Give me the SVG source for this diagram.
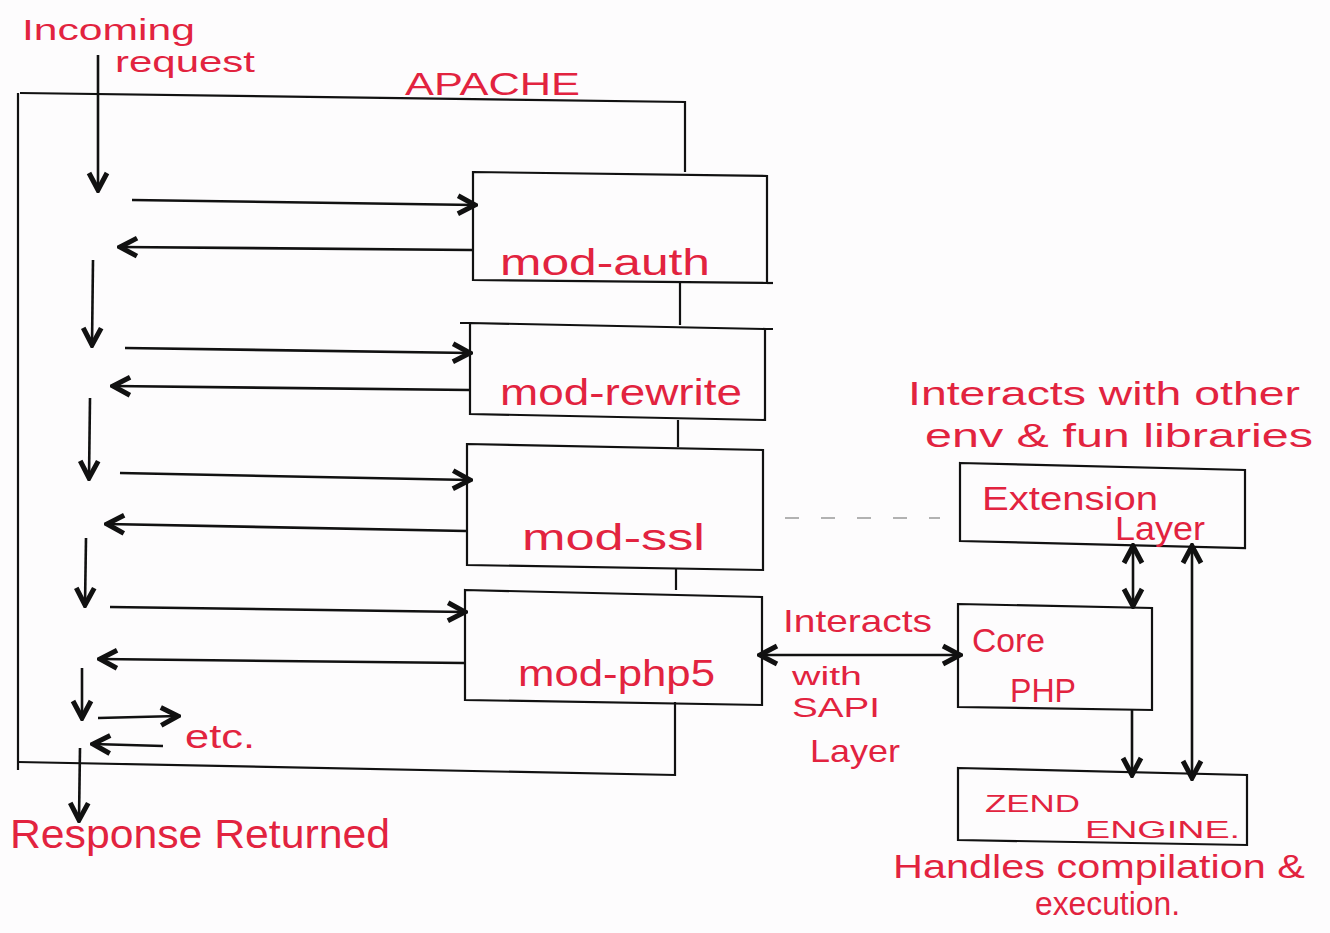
<svg xmlns="http://www.w3.org/2000/svg" width="1330" height="933" viewBox="0 0 1330 933">
<defs>
<style>
.bg{fill:#fdfcfd}
.box{fill:none;stroke:#111;stroke-width:2.2}
.ln{fill:none;stroke:#111;stroke-width:2.2}
.ar{fill:none;stroke:#111;stroke-width:2.6}
.dash{fill:none;stroke:#999;stroke-width:1.5;stroke-dasharray:14 22}
.t{font-family:"Liberation Sans","DejaVu Sans",sans-serif;fill:#e2233f}
</style>
<marker id="ah" viewBox="0 0 24 24" refX="21" refY="12" markerWidth="24" markerHeight="24" markerUnits="userSpaceOnUse" orient="auto-start-reverse">
<path d="M4,3 L21,12 L4,21" fill="none" stroke="#111" stroke-width="5" stroke-linejoin="miter"/>
</marker>
</defs>
<rect class="bg" x="0" y="0" width="1330" height="933"/>

<g id="apache">
<path class="ln" d="M20,93 L685,102 L685,172"/>
<path class="ln" d="M18,93 L18,770"/>
<path class="ln" d="M18,762 L675,775 L675,702"/>
<text class="t" x="405" y="95" font-size="32" textLength="175" lengthAdjust="spacingAndGlyphs">APACHE</text>
</g>

<g id="mod-auth">
<path class="box" d="M473,172 L767,176 L767,283 L473,280 Z"/>
<path class="ln" d="M767,283 L773,283"/>
<text class="t" x="500" y="275" font-size="36" textLength="210" lengthAdjust="spacingAndGlyphs">mod-auth</text>
</g>

<g id="mod-rewrite">
<path class="box" d="M470,323 L765,329 L765,420 L470,414 Z"/>
<path class="ln" d="M460,323 L470,323 M765,329 L773,329"/>
<text class="t" x="500" y="405" font-size="36" textLength="242" lengthAdjust="spacingAndGlyphs">mod-rewrite</text>
</g>

<g id="mod-ssl">
<path class="box" d="M467,444 L763,450 L763,570 L467,565 Z"/>
<text class="t" x="522" y="550" font-size="36" textLength="183" lengthAdjust="spacingAndGlyphs">mod-ssl</text>
</g>

<g id="mod-php5">
<path class="box" d="M465,590 L762,597 L762,705 L465,700 Z"/>
<text class="t" x="518" y="686" font-size="36" textLength="197" lengthAdjust="spacingAndGlyphs">mod-php5</text>
</g>

<g id="extension-layer">
<path class="box" d="M960,463 L1245,470 L1245,548 L960,541 Z"/>
<text class="t" x="982" y="510" font-size="34" textLength="176" lengthAdjust="spacingAndGlyphs">Extension</text>
<text class="t" x="1115" y="540" font-size="34" textLength="90" lengthAdjust="spacingAndGlyphs">Layer</text>
</g>

<g id="core-php">
<path class="box" d="M958,604 L1152,608 L1152,710 L958,707 Z"/>
<text class="t" x="972" y="652" font-size="34" textLength="73" lengthAdjust="spacingAndGlyphs">Core</text>
<text class="t" x="1010" y="702" font-size="34" textLength="66" lengthAdjust="spacingAndGlyphs">PHP</text>
</g>

<g id="zend-engine">
<path class="box" d="M958,768 L1247,775 L1247,845 L958,840 Z"/>
<text class="t" x="985" y="812" font-size="24" textLength="95" lengthAdjust="spacingAndGlyphs">ZEND</text>
<text class="t" x="1085" y="838" font-size="24" textLength="155" lengthAdjust="spacingAndGlyphs">ENGINE.</text>
</g>

<g id="labels">
<text class="t" x="22" y="40" font-size="30" textLength="173" lengthAdjust="spacingAndGlyphs">Incoming</text>
<text class="t" x="115" y="72" font-size="30" textLength="140" lengthAdjust="spacingAndGlyphs">request</text>
<text class="t" x="185" y="748" font-size="34" textLength="70" lengthAdjust="spacingAndGlyphs">etc.</text>
<text class="t" x="10" y="848" font-size="40" textLength="380" lengthAdjust="spacingAndGlyphs">Response Returned</text>
<text class="t" x="908" y="405" font-size="34" textLength="392" lengthAdjust="spacingAndGlyphs">Interacts with other</text>
<text class="t" x="925" y="447" font-size="34" textLength="388" lengthAdjust="spacingAndGlyphs">env &amp; fun libraries</text>
<text class="t" x="783" y="632" font-size="32" textLength="149" lengthAdjust="spacingAndGlyphs">Interacts</text>
<text class="t" x="792" y="685" font-size="26" textLength="70" lengthAdjust="spacingAndGlyphs">with</text>
<text class="t" x="792" y="717" font-size="28" textLength="88" lengthAdjust="spacingAndGlyphs">SAPI</text>
<text class="t" x="810" y="762" font-size="32" textLength="90" lengthAdjust="spacingAndGlyphs">Layer</text>
<text class="t" x="893" y="878" font-size="34" textLength="412" lengthAdjust="spacingAndGlyphs">Handles compilation &amp;</text>
<text class="t" x="1035" y="915" font-size="34" textLength="145" lengthAdjust="spacingAndGlyphs">execution.</text>
</g>

<g id="connectors">
<path class="ln" d="M680,283 L680,325 M678,420 L678,447 M676,568 L676,590"/>
<path class="ar" marker-end="url(#ah)" d="M98,55 L98,190"/>
<path class="ar" marker-end="url(#ah)" d="M132,200 L475,205"/>
<path class="ar" marker-end="url(#ah)" d="M472,250 L120,247"/>
<path class="ar" marker-end="url(#ah)" d="M93,260 L92,345"/>
<path class="ar" marker-end="url(#ah)" d="M125,348 L470,353"/>
<path class="ar" marker-end="url(#ah)" d="M470,390 L113,386"/>
<path class="ar" marker-end="url(#ah)" d="M90,398 L89,478"/>
<path class="ar" marker-end="url(#ah)" d="M120,473 L470,480"/>
<path class="ar" marker-end="url(#ah)" d="M466,531 L107,524"/>
<path class="ar" marker-end="url(#ah)" d="M86,538 L85,605"/>
<path class="ar" marker-end="url(#ah)" d="M110,607 L465,612"/>
<path class="ar" marker-end="url(#ah)" d="M464,663 L100,659"/>
<path class="ar" marker-end="url(#ah)" d="M82,668 L82,718"/>
<path class="ar" marker-end="url(#ah)" d="M98,718 L178,716"/>
<path class="ar" marker-end="url(#ah)" d="M163,746 L93,744"/>
<path class="ar" marker-end="url(#ah)" d="M80,748 L79,820"/>
<path class="ar" marker-start="url(#ah)" marker-end="url(#ah)" d="M760,655 L960,655"/>
<path class="ar" marker-start="url(#ah)" marker-end="url(#ah)" d="M1133,546 L1133,606"/>
<path class="ar" marker-end="url(#ah)" d="M1132,710 L1132,775"/>
<path class="ar" marker-start="url(#ah)" marker-end="url(#ah)" d="M1192,546 L1192,778"/>
<path class="dash" d="M785,518 L940,518"/>
</g>
</svg>
